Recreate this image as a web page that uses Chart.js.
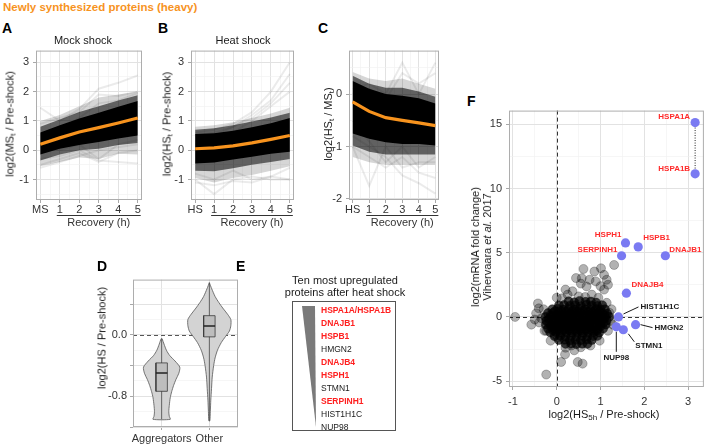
<!DOCTYPE html>
<html>
<head>
<meta charset="utf-8">
<script src="https://cdn.jsdelivr.net/npm/chart.js@4.4.1/dist/chart.umd.min.js"></script>
<style>
  body { margin: 0; background: #fff; }
  #fig { position: relative; width: 709px; height: 446px; overflow: hidden; font-family: 'Liberation Sans', Arial, sans-serif; color: #1a1a1a; }
  #fig canvas { position: absolute; }
  .t { position: absolute; white-space: nowrap; line-height: 1; font-size: 11px; transform: translate(-50%, -50%); }
  .t.l { transform: translate(0, -50%); }
  .t.r { transform: translate(-50%, -50%) rotate(-90deg); }
  .t.p { font-weight: bold; font-size: 14px; color: #000; }
  sub { font-size: 8px; vertical-align: -2px; line-height: 0; }
  #topBox { position: absolute; left: 292px; top: 301px; width: 104px; height: 130px; box-sizing: border-box; border: 1px solid #555; }
  #wedge { position: absolute; left: 302px; top: 306px; width: 14px; height: 121px; background: #7a7a7a; clip-path: polygon(0 0, 13px 0, 14px 121px); }
  .gene { position: absolute; left: 321px; font-size: 8.5px; line-height: 1; white-space: nowrap; transform: translate(0, -50%); }
</style>
</head>
<body>
<div id="fig">
  <canvas id="chartA" width="134" height="196" style="left:14px;top:40px"></canvas>
  <canvas id="chartB" width="130" height="196" style="left:168px;top:40px"></canvas>
  <canvas id="chartC" width="117" height="196" style="left:326px;top:40px"></canvas>
  <canvas id="chartD" width="142" height="176" style="left:100px;top:270px"></canvas>
  <canvas id="chartF" width="231" height="318" style="left:478px;top:100px"></canvas>

  <div class="t l" style="left:3px;top:8px;font-weight:bold;font-size:11.5px;color:#f7931e">Newly synthesized proteins (heavy)</div>
  <div class="t l p" style="left:2px;top:28px">A</div>
  <div class="t l p" style="left:158px;top:28px">B</div>
  <div class="t l p" style="left:318px;top:28px">C</div>
  <div class="t l p" style="left:97px;top:266px">D</div>
  <div class="t l p" style="left:236px;top:266px">E</div>
  <div class="t l p" style="left:467px;top:101px">F</div>

  <div class="t" style="left:83px;top:40px">Mock shock</div>
  <div class="t" style="left:243px;top:40px">Heat shock</div>
  <div class="t r" style="left:10px;top:124px">log2(MS<sub>t</sub> / Pre-shock)</div>
  <div class="t r" style="left:167px;top:124px">log2(HS<sub>t</sub> / Pre-shock)</div>
  <div class="t r" style="left:328px;top:124px">log2(HS<sub>t</sub> / MS<sub>t</sub>)</div>
  <div class="t r" style="left:102px;top:338px">log2(HS / Pre-shock)</div>
  <div class="t r" style="left:481px;top:247px;line-height:12px;text-align:center">log2(mRNA fold change)<br>Vihervaara <i>et al.</i> 2017</div>
  <div class="t" style="left:604px;top:414px">log2(HS<sub>5h</sub> / Pre-shock)</div>

  <div class="t" style="left:345px;top:280px">Ten most upregulated</div>
  <div class="t" style="left:345px;top:292px">proteins after heat shock</div>
  <div id="topBox"></div>
  <div id="wedge"></div>
  <div id="geneList"></div>
</div>

<script>
const font = "'Liberation Sans', Arial, sans-serif";
Chart.defaults.font.family = font;
Chart.defaults.font.size = 11;
Chart.defaults.color = '#333';

// ---- panels A-C: time courses ----
const mockTickLabels = ['MS', '1', '2', '3', '4', '5'];
const heatTickLabels = ['HS', '1', '2', '3', '4', '5'];
const timeTicks = [0, 0.5, 1, 1.5, 2, 2.5, 3, 3.5, 4, 4.5, 5];
const abYTicks = [-1.5, -1, -0.5, 0, 0.5, 1, 1.5, 2, 2.5, 3];
const cYTicks = [-2, -1.5, -1, -0.5, 0, 0.5];

const mockMean = [0.2, 0.42, 0.62, 0.77, 0.93, 1.1];
const mockCoreLo = [-0.15, 0.05, 0.18, 0.28, 0.4, 0.5];
const mockCoreHi = [0.6, 0.85, 1.08, 1.28, 1.48, 1.68];
const mockMidLo = [-0.35, -0.15, 0.0, 0.05, 0.18, 0.25];
const mockMidHi = [0.8, 1.05, 1.3, 1.5, 1.7, 1.88];
const mockOuterLo = [-0.55, -0.4, -0.25, -0.3, -0.12, -0.15];
const mockOuterHi = [1.0, 1.2, 1.5, 1.8, 1.9, 2.0];
const mockStray = [
  [1.45, 1.0, 1.4, 2.1, 2.3, 2.55],
  [0.9, 1.1, 1.3, 1.9, 1.85, 2.0],
  [0.5, 0.7, 1.1, 1.6, 1.7, 1.95],
  [-0.5, -0.3, -0.1, -0.4, -0.1, 0.0],
  [-0.3, -0.2, 0.0, -0.35, -0.4, -0.45],
  [-0.6, -0.4, -0.2, 0.0, 0.1, 0.2],
  [0.1, 0.0, 0.2, -0.3, 0.2, 0.35]
];

const heatMean = [0.05, 0.08, 0.15, 0.25, 0.37, 0.5];
const heatCoreLo = [-0.45, -0.42, -0.32, -0.22, -0.12, -0.05];
const heatCoreHi = [0.55, 0.58, 0.66, 0.78, 0.92, 1.1];
const heatMidLo = [-0.7, -0.72, -0.62, -0.5, -0.4, -0.3];
const heatMidHi = [0.7, 0.75, 0.85, 0.98, 1.12, 1.28];
const heatOuterLo = [-0.95, -1.1, -0.95, -0.85, -0.7, -0.55];
const heatOuterHi = [0.8, 0.85, 0.95, 1.1, 1.25, 1.45];
const heatStray = [
  [0.6, 0.7, 0.9, 1.3, 2.0, 3.0],
  [0.3, 0.5, 0.8, 1.1, 1.6, 2.3],
  [0.2, 0.4, 0.6, 1.0, 1.5, 2.0],
  [0.5, 0.6, 0.8, 1.2, 1.7, 2.6],
  [-1.0, -1.5, -1.0, -0.9, -1.0, -1.0],
  [-1.1, -1.2, -1.05, -1.1, -0.9, -0.6],
  [-0.8, -1.0, -0.7, -1.0, -0.9, -1.0]
];

const ratioMean = [-0.15, -0.33, -0.45, -0.5, -0.55, -0.6];
const ratioCoreLo = [-0.75, -0.85, -0.92, -0.95, -0.95, -0.98];
const ratioCoreHi = [0.25, 0.1, 0.0, -0.03, -0.08, -0.18];
const ratioMidLo = [-0.98, -1.1, -1.15, -1.15, -1.15, -1.15];
const ratioMidHi = [0.35, 0.2, 0.12, 0.12, 0.05, -0.05];
const ratioOuterLo = [-1.2, -1.3, -1.35, -1.35, -1.35, -1.35];
const ratioOuterHi = [0.42, 0.3, 0.25, 0.3, 0.2, 0.1];
const ratioStray = [
  [0.1, 0.2, 0.0, 0.6, 0.0, 0.6],
  [0.0, 0.1, -0.1, 0.4, 0.2, 0.4],
  [-1.0, -1.75, -1.0, -1.4, -1.3, -1.3],
  [-0.8, -1.0, -1.2, -1.55, -1.7, -1.9],
  [-1.0, -1.2, -1.4, -1.2, -1.5, -1.6],
  [-0.5, -0.9, -1.3, -1.0, -1.4, -1.2]
];

// ---- panel D: violins ----
const violinGroups = ['Aggregators', 'Other'];
const aggY = [-0.05, -0.12, -0.2, -0.27, -0.34, -0.42, -0.5, -0.58, -0.66, -0.74, -0.82, -0.92, -1.0, -1.06, -1.1];
const aggW = [0.01, 0.05, 0.1, 0.17, 0.28, 0.38, 0.36, 0.3, 0.25, 0.21, 0.18, 0.16, 0.15, 0.16, 0.18];
const otherY = [0.68, 0.6, 0.5, 0.42, 0.35, 0.27, 0.2, 0.12, 0.05, -0.02, -0.1, -0.2, -0.3, -0.4, -0.55, -0.7, -0.85, -1.0, -1.12];
const otherW = [0.0, 0.05, 0.12, 0.2, 0.28, 0.38, 0.45, 0.45, 0.42, 0.34, 0.25, 0.17, 0.12, 0.09, 0.06, 0.045, 0.03, 0.02, 0.01];
const boxQ1 = [-0.735, -0.026];
const boxMedian = [-0.495, 0.116];
const boxQ3 = [-0.365, 0.25];
const whiskerLo = [-1.1, -1.12];
const whiskerHi = [-0.05, 0.68];
const dYTicks = [-1.2, -1.0, -0.8, -0.6, -0.4, -0.2, 0, 0.2, 0.4, 0.6];

// ---- panel E ----
const topProteins = ['HSPA1A/HSPA1B', 'DNAJB1', 'HSPB1', 'HMGN2', 'DNAJB4', 'HSPH1', 'STMN1', 'SERPINH1', 'HIST1H1C', 'NUP98'];
const topIsChaperone = [true, true, true, false, true, true, false, true, false, false];

// ---- panel F: scatter ----
const geneNames = ['HSPA1A', 'HSPA1B', 'HSPH1', 'HSPB1', 'SERPINH1', 'DNAJB1', 'DNAJB4', 'HIST1H1C', 'HMGN2', 'STMN1', 'NUP98'];
const geneX = [3.16, 3.16, 1.57, 1.86, 1.48, 2.48, 1.59, 1.41, 1.80, 1.52, 1.36];
const geneY = [15.15, 11.15, 5.77, 5.46, 4.77, 4.77, 1.85, 0.0, -0.6, -1.0, -0.77];
const geneRed = [true, true, true, true, true, true, true, false, false, false, false];
const fXTicks = [-1, -0.5, 0, 0.5, 1, 1.5, 2, 2.5, 3];
const fYTicks = [-5, -2.5, 0, 2.5, 5, 7.5, 10, 12.5, 15];

const cloudCore = [
  [0.27, 1.22], [0.4, 1.15], [0.52, 1.25], [0.66, 1.18], [0.78, 1.2], [0.9, 1.12],
  [0.05, 0.9], [0.17, 0.94], [0.3, 0.88], [0.42, 0.92], [0.55, 0.86], [0.68, 0.95], [0.8, 0.9], [0.93, 0.85], [1.04, 0.92],
  [-0.04, 0.45], [0.1, 0.47], [0.22, 0.43], [0.35, 0.46], [0.47, 0.44], [0.6, 0.48], [0.72, 0.42], [0.85, 0.46], [0.97, 0.44],
  [-0.1, 0.6], [0.02, 0.64], [0.15, 0.57], [0.27, 0.62], [0.4, 0.58], [0.52, 0.63], [0.65, 0.6], [0.77, 0.55], [0.9, 0.62], [1.0, 0.58], [1.1, 0.6],
  [-0.2, 0.3], [-0.08, 0.33], [0.05, 0.27], [0.17, 0.31], [0.3, 0.28], [0.42, 0.33], [0.55, 0.3], [0.67, 0.26], [0.8, 0.32], [0.92, 0.28], [1.04, 0.31], [1.15, 0.27],
  [-0.14, 0.15], [0.0, 0.17], [0.12, 0.13], [0.25, 0.16], [0.37, 0.14], [0.5, 0.18], [0.62, 0.12], [0.75, 0.15], [0.87, 0.17], [1.0, 0.13], [1.1, 0.16],
  [-0.26, 0.0], [-0.13, 0.03], [0.0, -0.02], [0.12, 0.02], [0.25, -0.03], [0.37, 0.01], [0.5, 0.03], [0.62, -0.02], [0.75, 0.02], [0.87, -0.01], [1.0, 0.03], [1.1, -0.02], [1.2, 0.01],
  [-0.18, -0.15], [-0.05, -0.13], [0.08, -0.17], [0.2, -0.14], [0.33, -0.16], [0.45, -0.12], [0.58, -0.18], [0.7, -0.15], [0.83, -0.13], [0.95, -0.17], [1.08, -0.14],
  [-0.24, -0.3], [-0.1, -0.28], [0.03, -0.32], [0.15, -0.27], [0.28, -0.31], [0.4, -0.29], [0.53, -0.33], [0.65, -0.28], [0.78, -0.3], [0.9, -0.27], [1.02, -0.32], [1.14, -0.3],
  [-0.18, -0.45], [-0.05, -0.47], [0.07, -0.43], [0.2, -0.46], [0.32, -0.44], [0.45, -0.48], [0.57, -0.42], [0.7, -0.45], [0.82, -0.47], [0.95, -0.43], [1.07, -0.46],
  [-0.25, -0.6], [-0.12, -0.62], [0.0, -0.57], [0.12, -0.61], [0.25, -0.59], [0.37, -0.63], [0.5, -0.58], [0.62, -0.6], [0.75, -0.62], [0.87, -0.57], [1.0, -0.61], [1.12, -0.59],
  [-0.13, -0.75], [0.0, -0.77], [0.12, -0.73], [0.25, -0.76], [0.37, -0.74], [0.5, -0.78], [0.62, -0.72], [0.75, -0.75], [0.87, -0.77], [1.0, -0.73],
  [-0.2, -0.9], [-0.07, -0.88], [0.05, -0.92], [0.18, -0.89], [0.3, -0.91], [0.43, -0.87], [0.55, -0.93], [0.68, -0.9], [0.8, -0.88], [0.93, -0.91], [1.06, -0.9],
  [-0.08, -1.05], [0.05, -1.07], [0.17, -1.03], [0.3, -1.06], [0.42, -1.04], [0.55, -1.08], [0.67, -1.02], [0.8, -1.05], [0.92, -1.07],
  [-0.15, -1.2], [-0.02, -1.18], [0.1, -1.22], [0.22, -1.19], [0.35, -1.21], [0.47, -1.17], [0.6, -1.23], [0.72, -1.2], [0.85, -1.18], [0.97, -1.21],
  [-0.05, -1.5], [0.08, -1.48], [0.2, -1.52], [0.33, -1.49], [0.45, -1.51], [0.58, -1.47], [0.7, -1.53], [0.83, -1.5], [0.93, -1.48],
  [0.05, -1.8], [0.18, -1.78], [0.3, -1.82], [0.43, -1.79], [0.55, -1.81], [0.68, -1.77], [0.8, -1.8],
  [0.2, -2.1], [0.33, -2.08], [0.45, -2.12], [0.58, -2.09], [0.7, -2.1]
];
const cloudEdge = [
  [-0.95, 0.0], [-0.43, 1.05], [-0.41, 0.67], [-0.47, 0.28], [-0.58, -0.6], [-0.4, -0.43], [-0.28, -1.08],
  [0.02, -1.6], [0.1, -3.51], [0.19, -2.92], [-0.24, -4.49], [0.48, -3.51], [0.59, -3.64], [0.61, 3.74],
  [0.57, 3.02], [0.86, 3.54], [1.01, 3.79], [1.08, 3.28], [1.31, 4.05], [0.89, 2.77], [1.14, 2.9], [1.17, 2.51],
  [1.08, 2.13], [0.2, 2.13], [0.36, 2.0], [0.44, 3.03], [0.25, 1.74], [0.68, 2.38], [0.8, 1.74], [1.14, 1.1],
  [1.2, 0.33], [1.23, -0.31], [1.17, -1.08], [0.98, -1.85], [0.77, -2.23], [0.55, -2.36], [0.33, -2.23],
  [-0.06, -1.33], [-0.14, -1.85], [-0.24, -1.08], [-0.35, -0.1], [-0.5, -0.2], [0.0, 1.5], [0.12, 1.45],
  [0.95, 1.5], [1.25, 0.6], [1.28, -0.6], [0.4, -2.6], [0.2, -2.4], [0.65, 1.55], [0.5, 1.6], [-0.3, 0.6],
  [1.0, 2.4], [0.75, 2.9], [0.55, 2.6]
];

// ---------- helpers ----------
function axis(o) {
  const isMajor = c => c.tick && o.major(c.tick.value);
  return {
    type: 'linear',
    min: o.min,
    max: o.max,
    afterBuildTicks: s => { s.ticks = o.ticks.map(v => ({ value: v })); },
    afterFit: s => { if (o.y) s.width = o.size; else s.height = o.size; },
    grid: {
      color: c => isMajor(c) ? '#e2e2e2' : '#f0f0f0',
      lineWidth: c => isMajor(c) ? 1 : 0.6,
      tickColor: c => isMajor(c) ? '#a8a8a8' : 'rgba(0,0,0,0)',
      tickLength: 3
    },
    border: { display: false },
    ticks: {
      autoSkip: false,
      maxRotation: 0,
      padding: o.pad,
      color: '#333',
      font: { size: 11 },
      callback: v => o.major(v) ? o.label(v) : ''
    }
  };
}

const frame = {
  id: 'frame',
  afterDraw(ch) {
    const a = ch.chartArea, c = ch.ctx;
    c.save();
    c.strokeStyle = '#adadad';
    c.lineWidth = 1;
    c.strokeRect(a.left + 0.5, a.top + 0.5, a.width - 1, a.height - 1);
    c.restore();
  }
};

const recovery = {
  id: 'recovery',
  afterDraw(ch) {
    const x = ch.scales.x, b = ch.chartArea.bottom, c = ch.ctx;
    const x1 = x.getPixelForValue(1) - 3, x2 = x.getPixelForValue(5) + 3;
    c.save();
    c.strokeStyle = '#333';
    c.lineWidth = 1;
    c.beginPath();
    c.moveTo(x1, b + 15.5);
    c.lineTo(x2, b + 15.5);
    c.stroke();
    c.fillStyle = '#333';
    c.font = '11px ' + font;
    c.textAlign = 'center';
    c.textBaseline = 'middle';
    c.fillText('Recovery (h)', (x1 + x2) / 2, b + 22.5);
    c.restore();
  }
};

const zeroLines = {
  id: 'zeroLines',
  beforeDatasetsDraw(ch, args, opts) {
    const c = ch.ctx, a = ch.chartArea;
    c.save();
    c.strokeStyle = opts.color || '#333';
    c.lineWidth = 1;
    c.setLineDash([4, 3]);
    if (opts.h) {
      const y = Math.round(ch.scales.y.getPixelForValue(0)) + 0.5;
      c.beginPath(); c.moveTo(a.left, y); c.lineTo(a.right, y); c.stroke();
    }
    if (opts.v) {
      const x = Math.round(ch.scales.x.getPixelForValue(0)) + 0.5;
      c.beginPath(); c.moveTo(x, a.top); c.lineTo(x, a.bottom); c.stroke();
    }
    c.restore();
  }
};

function trajectory(mean, coreLo, coreHi, midLo, midHi, outLo, outHi, stray) {
  const pts = arr => arr.map((v, i) => ({ x: i, y: v }));
  const edge = { showLine: true, pointRadius: 0, borderColor: 'rgba(0,0,0,0)', borderWidth: 1 };
  const sets = [
    Object.assign({ data: pts(outLo), order: 5 }, edge),
    Object.assign({ data: pts(outHi), order: 5, fill: '-1', backgroundColor: 'rgba(0,0,0,0.16)' }, edge),
    Object.assign({ data: pts(midLo), order: 4 }, edge),
    Object.assign({ data: pts(midHi), order: 4, fill: '-1', backgroundColor: 'rgba(0,0,0,0.55)' }, edge),
    Object.assign({ data: pts(coreLo), order: 3 }, edge),
    Object.assign({ data: pts(coreHi), order: 3, fill: '-1', backgroundColor: '#000' }, edge)
  ];
  stray.forEach(s => sets.push({ data: pts(s), showLine: true, pointRadius: 0, borderColor: 'rgba(0,0,0,0.08)', borderWidth: 2, order: 6 }));
  sets.push({ data: pts(mean), showLine: true, pointRadius: 0, borderColor: '#f7931e', borderWidth: 3.2, order: 0 });
  return sets;
}

function baseOptions(scales, padding, pluginOpts) {
  return {
    responsive: false,
    animation: false,
    events: [],
    layout: { padding },
    plugins: Object.assign({ legend: { display: false }, tooltip: { enabled: false } }, pluginOpts || {}),
    scales
  };
}

function timeChart(id, tickLabels, yMin, yMax, yTicks, yWidth, padRight, sets) {
  new Chart(document.getElementById(id), {
    type: 'scatter',
    data: { datasets: sets },
    options: baseOptions({
      x: axis({ min: -0.22, max: 5.22, ticks: timeTicks, major: Number.isInteger, label: v => tickLabels[v], size: 36, pad: 0 }),
      y: axis({ y: true, min: yMin, max: yMax, ticks: yTicks, major: Number.isInteger, label: v => String(v), size: yWidth, pad: 4 })
    }, { top: 8, right: padRight, left: 0, bottom: 0 }),
    plugins: [frame, recovery]
  });
}

timeChart('chartA', mockTickLabels, -1.7, 3.4, abYTicks, 22, 6,
  trajectory(mockMean, mockCoreLo, mockCoreHi, mockMidLo, mockMidHi, mockOuterLo, mockOuterHi, mockStray));
timeChart('chartB', heatTickLabels, -1.7, 3.4, abYTicks, 23, 4,
  trajectory(heatMean, heatCoreLo, heatCoreHi, heatMidLo, heatMidHi, heatOuterLo, heatOuterHi, heatStray));
timeChart('chartC', heatTickLabels, -2.02, 0.83, cYTicks, 23, 4,
  trajectory(ratioMean, ratioCoreLo, ratioCoreHi, ratioMidLo, ratioMidHi, ratioOuterLo, ratioOuterHi, ratioStray));

// ---------- D ----------
function violinShape(center, ys, ws) {
  const right = ys.map((y, i) => ({ x: center + ws[i], y }));
  const left = ys.map((y, i) => ({ x: center - ws[i], y })).reverse();
  const pts = right.concat(left);
  pts.push(pts[0]);
  return pts;
}
const boxHalf = 0.12;
const violinSets = [];
[[aggY, aggW], [otherY, otherW]].forEach(([ys, ws], g) => {
  const c = g + 1;
  violinSets.push({ data: violinShape(c, ys, ws), showLine: true, pointRadius: 0, tension: 0.25, fill: 'shape',
    backgroundColor: '#d3d3d3', borderColor: '#555', borderWidth: 0.8, order: 3 });
  violinSets.push({ data: [{ x: c, y: whiskerLo[g] }, { x: c, y: whiskerHi[g] }], showLine: true, pointRadius: 0,
    borderColor: '#444', borderWidth: 0.8, order: 2 });
  violinSets.push({ data: [{ x: c - boxHalf, y: boxQ1[g] }, { x: c + boxHalf, y: boxQ1[g] }, { x: c + boxHalf, y: boxQ3[g] },
    { x: c - boxHalf, y: boxQ3[g] }, { x: c - boxHalf, y: boxQ1[g] }], showLine: true, pointRadius: 0, fill: 'shape',
    backgroundColor: '#bdbdbd', borderColor: '#3a3a3a', borderWidth: 0.8, order: 1 });
  violinSets.push({ data: [{ x: c - boxHalf, y: boxMedian[g] }, { x: c + boxHalf, y: boxMedian[g] }], showLine: true,
    pointRadius: 0, borderColor: '#222', borderWidth: 1.5, order: 0 });
});
const quarter = v => Math.abs(v * 2.5 - Math.round(v * 2.5)) < 1e-6;
new Chart(document.getElementById('chartD'), {
  type: 'scatter',
  data: { datasets: violinSets },
  options: baseOptions({
    x: axis({ min: 0.4, max: 2.6, ticks: [1, 2], major: () => true, label: v => violinGroups[v - 1], size: 19, pad: 2 }),
    y: axis({ y: true, min: -1.2, max: 0.72, ticks: dYTicks, major: quarter,
      label: v => (Math.abs(v) < 1e-6 || Math.abs(v + 0.8) < 1e-6) ? v.toFixed(1) : '', size: 33, pad: 3 })
  }, { top: 8, right: 4, left: 0, bottom: 0 }, { zeroLines: { h: true, color: '#555' } }),
  plugins: [frame, zeroLines]
});

// ---------- E ----------
const list = document.getElementById('geneList');
topProteins.forEach((name, i) => {
  const d = document.createElement('div');
  d.className = 'gene';
  d.style.top = (310 + i * 13) + 'px';
  d.style.color = topIsChaperone[i] ? '#ff2020' : '#1a1a1a';
  d.style.fontWeight = topIsChaperone[i] ? 'bold' : 'normal';
  d.textContent = name;
  list.appendChild(d);
});

// ---------- F ----------
const geneLabelPos = {
  HSPA1A: [-5, -6, 'right'], HSPA1B: [-5, -5, 'right'], HSPH1: [-4, -8, 'right'],
  HSPB1: [5, -9, 'left'], SERPINH1: [-4, -6, 'right'], DNAJB1: [4, -6, 'left'],
  DNAJB4: [5, -8, 'left'],
  HIST1H1C: [22, -10, 'left', [5, -3, 20, -10]],
  HMGN2: [19, 3, 'left', [5, 0, 17, 3]],
  STMN1: [12, 16, 'left', [5, 4, 11, 12]],
  NUP98: [0, 31, 'center', [0, 5, 0, 25]]
};
const geneLabels = {
  id: 'geneLabels',
  afterDatasetsDraw(ch) {
    const c = ch.ctx, xs = ch.scales.x, ys = ch.scales.y;
    c.save();
    c.font = 'bold 8px ' + font;
    c.textBaseline = 'middle';
    geneNames.forEach((g, i) => {
      const px = xs.getPixelForValue(geneX[i]), py = ys.getPixelForValue(geneY[i]);
      const [dx, dy, align, lead] = geneLabelPos[g];
      if (lead) {
        c.strokeStyle = '#1a1a1a';
        c.lineWidth = 1;
        c.beginPath();
        c.moveTo(px + lead[0], py + lead[1]);
        c.lineTo(px + lead[2], py + lead[3]);
        c.stroke();
      }
      c.fillStyle = geneRed[i] ? '#ff2a2a' : '#1a1a1a';
      c.textAlign = align;
      c.fillText(g, px + dx, py + dy);
    });
    c.restore();
  }
};
const toPts = arr => arr.map(p => ({ x: p[0], y: p[1] }));
new Chart(document.getElementById('chartF'), {
  type: 'scatter',
  data: {
    datasets: [
      { data: geneX.map((x, i) => ({ x, y: geneY[i] })), pointRadius: 4.6, backgroundColor: 'rgb(122,122,242)',
        borderWidth: 0, order: 0 },
      { data: [{ x: geneX[0], y: geneY[0] }, { x: geneX[1], y: geneY[1] }], showLine: true, pointRadius: 0,
        borderColor: '#222', borderWidth: 1, borderDash: [1, 1.5], order: 1 },
      { data: toPts(cloudCore), pointRadius: 4.5, backgroundColor: 'rgba(0,0,0,0.72)', borderColor: 'rgba(0,0,0,0.6)',
        borderWidth: 0.6, order: 2 },
      { data: toPts(cloudEdge), pointRadius: 4.5, backgroundColor: 'rgba(0,0,0,0.3)', borderColor: 'rgba(0,0,0,0.42)',
        borderWidth: 0.6, order: 3 }
    ]
  },
  options: baseOptions({
    x: axis({ min: -1.09, max: 3.36, ticks: fXTicks, major: Number.isInteger, label: v => String(v), size: 31, pad: 5 }),
    y: axis({ y: true, min: -5.46, max: 16.08, ticks: fYTicks, major: v => v % 5 === 0, label: v => String(v), size: 31, pad: 4 })
  }, { top: 7, right: 2, left: 0, bottom: 0 }, { zeroLines: { h: true, v: true, color: '#333' } }),
  plugins: [frame, zeroLines, geneLabels]
});
</script>
</body>
</html>
